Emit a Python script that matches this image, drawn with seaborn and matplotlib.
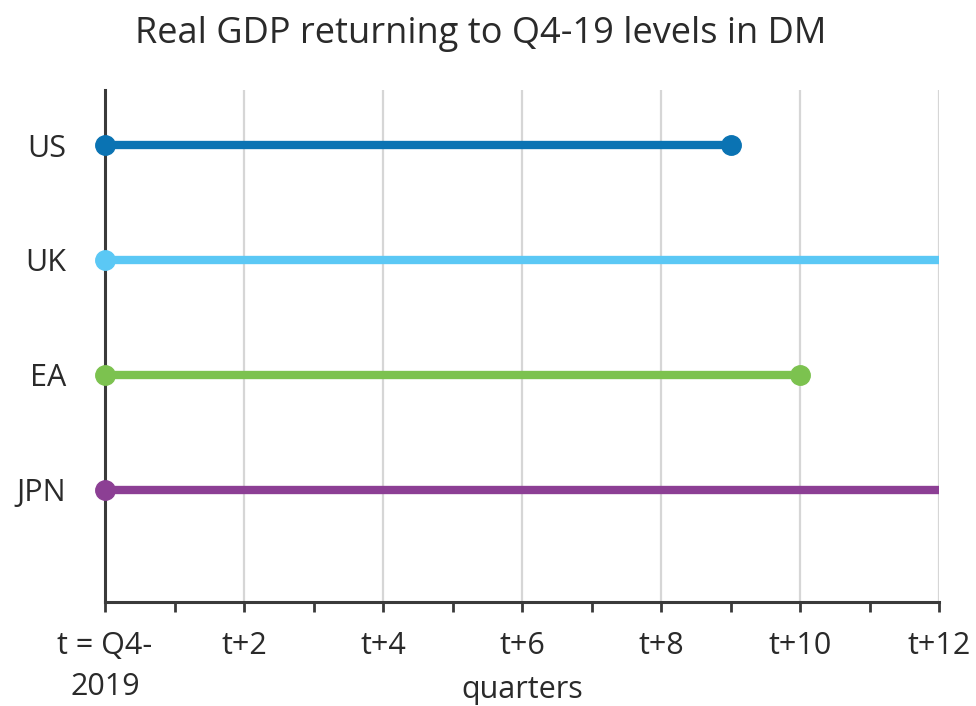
import numpy as np
import pandas as pd
import seaborn as sns
import matplotlib.pyplot as plt

# quarters after Q4-2019 until real GDP got back to its pre-covid level
# (13 = not back yet within the 12-quarter window shown)
countries = ['US', 'UK', 'EA', 'JPN']
start_q = [0, 0, 0, 0]
end_q = [9, 13, 10, 13]
colors = ['#0a73b3', '#5bc8f5', '#7cc24f', '#8c3f94']

tick_vals = list(range(0, 13, 2))
tick_labels = ['t = Q4-\n2019', 't+2', 't+4', 't+6', 't+8', 't+10', 't+12']

df = pd.DataFrame({'country': countries, 'start': start_q, 'end': end_q})
df['pos'] = np.arange(len(df))

sns.set_style('white')
plt.rcParams['font.family'] = ['Open Sans', 'DejaVu Sans']

fig = plt.figure(figsize=(9.76, 7.06), dpi=100)
ax = fig.add_axes([0.1076, 0.147, 0.855, 0.7255])

# ---------- lines + end markers ----------
for _, row in df.iterrows():
    c = colors[row['pos']]
    long = pd.DataFrame({'q': [row['start'], row['end']], 'y': [row['pos']] * 2})
    sns.lineplot(data=long, x='q', y='y', color=c, lw=6, estimator=None,
                 sort=False, ax=ax, solid_capstyle='butt')
    ax.plot(row['end'], row['pos'], 'o', color=c, ms=14)
    ax.plot(row['start'], row['pos'], 'o', color=c, ms=14, clip_on=False, zorder=5)

# ---------- axes styling ----------
txt = '#2a2a2a'
ax.set_xlim(0, 12)
ax.set_ylim(3.98, -0.48)
ax.set_yticks(df['pos'])
ax.set_yticklabels(df['country'], fontsize=22, color=txt)
ax.tick_params(axis='y', length=0, pad=28)

ax.set_xticks(tick_vals)
ax.set_xticklabels(tick_labels, fontsize=22, color=txt, linespacing=1.45)
ax.set_xticks(range(1, 12, 2), minor=True)
ax.tick_params(axis='x', which='both', bottom=True, direction='out', length=7,
               width=2, color='#3a3a3a', pad=14)
ax.xaxis.grid(True, which='major', color='#d6d6d6', lw=1.6)
ax.set_axisbelow(True)

sns.despine(ax=ax)
for s in ['left', 'bottom']:
    ax.spines[s].set_color('#3a3a3a')
    ax.spines[s].set_linewidth(2.2)

ax.set_ylabel('')
ax.set_xlabel('quarters', fontsize=22, color=txt)
ax.xaxis.set_label_coords(0.5, -0.142)
ax.xaxis.label.set_va('top')

fig.suptitle('Real GDP returning to Q4-19 levels in DM', fontsize=26,
             color=txt, x=0.492, y=0.978)

fig.savefig('out.png', dpi=100)
